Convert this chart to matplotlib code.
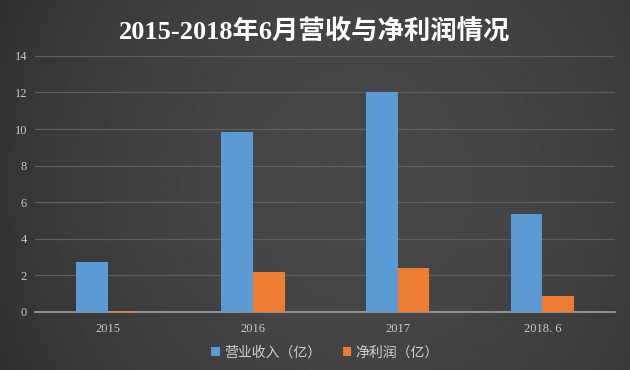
import numpy as np
import matplotlib.pyplot as plt

plt.rcParams['font.family'] = ['Liberation Serif', 'Noto Sans CJK SC', 'DejaVu Sans']

categories = ['2015', '2016', '2017', '2018. 6']
revenue = [2.75, 9.85, 12.0, 5.35]
profit = [0.05, 2.2, 2.42, 0.87]
yticks = [0, 2, 4, 6, 8, 10, 12, 14]

fig = plt.figure(figsize=(6.3, 3.7), dpi=100)

# dark gradient background
bg = fig.add_axes([0, 0, 1, 1], zorder=-10)
xx = np.linspace(-1, 1, 300)
yy = np.linspace(-1, 1, 200)
X, Y = np.meshgrid(xx, yy)
grad = 1 - 0.5 * ((X - 0.15) ** 2) - 0.15 * (Y ** 2)
gray = 0.17 + 0.11 * grad
bg.imshow(gray, cmap='gray', vmin=0, vmax=1, aspect='auto', extent=[0, 1, 0, 1])
bg.axis('off')

ax = fig.add_axes([0.056, 0.157, 0.92, 0.692])
ax.patch.set_alpha(0)

x = np.arange(len(categories))
w = 0.22
ax.bar(x - w / 2, revenue, w, color='#5b9bd5', label='营业收入（亿）', zorder=3)
ax.bar(x + w / 2, profit, w, color='#ed7d31', label='净利润（亿）', zorder=3)

ax.set_xlim(-0.5, 3.5)
ax.set_ylim(0, 14)
ax.set_yticks(yticks)
ax.set_xticks(x)
ax.set_xticklabels(categories)
ax.grid(axis='y', color='#5e5e5e', linewidth=0.9, zorder=0)
for s in ['top', 'right', 'left']:
    ax.spines[s].set_visible(False)
ax.spines['bottom'].set_color('#a0a0a0')
ax.spines['bottom'].set_linewidth(1.2)
ax.tick_params(length=0, colors='#c8c8c8', labelsize=9)
ax.tick_params(axis='x', pad=8)
ax.tick_params(axis='y', pad=6)

fig.text(0.5, 0.912, '2015-2018年6月营收与净利润情况', ha='center', va='center',
         color='white', fontsize=19, fontweight='bold',
         family=['Liberation Serif', 'Noto Sans CJK SC'])

leg = ax.legend(loc='center', bbox_to_anchor=(0.5, -0.158), ncol=2, frameon=False,
                handlelength=0.6, handleheight=0.6, handletextpad=0.3, columnspacing=1.6,
                prop={'family': ['Noto Sans CJK SC'], 'size': 10})
for t in leg.get_texts():
    t.set_color('#d0d0d0')

plt.savefig('out.png', dpi=100)
